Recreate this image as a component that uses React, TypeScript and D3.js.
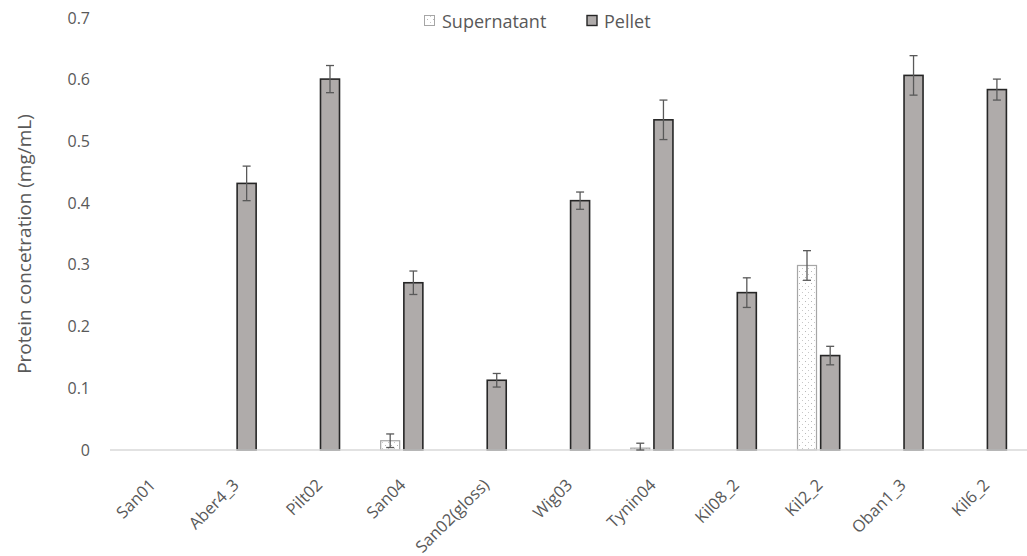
import React from "react";
import * as d3 from "d3";

const categories = ["San01", "Aber4_3", "Pilt02", "San04", "San02(gloss)", "Wig03", "Tynin04", "Kil08_2", "Kil2_2", "Oban1_3", "Kil6_2"];
const supernatant = [0, 0, 0, 0.015, 0, 0, 0.003, 0, 0.299, 0, 0];
const supernatantErr = [0, 0, 0, 0.011, 0, 0, 0.008, 0, 0.024, 0, 0];
const pellet = [0, 0.432, 0.601, 0.271, 0.113, 0.404, 0.535, 0.255, 0.153, 0.607, 0.584];
const pelletErr = [0, 0.028, 0.022, 0.019, 0.011, 0.014, 0.032, 0.024, 0.015, 0.032, 0.017];
const yTicks = [0, 0.1, 0.2, 0.3, 0.4, 0.5, 0.6, 0.7];

const W = 1027, H = 556;
const FONT = "'Open Sans', 'Noto Sans', sans-serif";

export default function App() {
  const x = d3.scaleBand<string>().domain(categories).range([110, 1027]).padding(0);
  const y = d3.scaleLinear().domain([0, 0.7]).range([450, 18]);
  const bw = x.bandwidth();
  const barW = bw * 0.228;
  const gap = bw * 0.05;

  const series = [
    { name: "Supernatant", vals: supernatant, errs: supernatantErr, offset: -gap / 2 - barW, fill: "url(#dots)", stroke: "#a6a6a6", sw: 1.2 },
    { name: "Pellet", vals: pellet, errs: pelletErr, offset: gap / 2, fill: "#afabaa", stroke: "#262626", sw: 1.6 },
  ];

  return (
    <svg width={W} height={H} style={{ position: "absolute", left: 0, top: 0, background: "#fff" }}>
      <defs>
        <pattern id="dots" width="6" height="6" patternUnits="userSpaceOnUse">
          <rect width="6" height="6" fill="#fff" />
          <rect x="1" y="1" width="1" height="1" fill="#b8b8b8" />
          <rect x="4" y="4" width="1" height="1" fill="#c8c8c8" />
        </pattern>
      </defs>
      {yTicks.map((t) => (
        <text key={t} x={90} y={y(t) + 5.5} textAnchor="end" fontFamily={FONT} fontSize={16} fill="#595959">
          {t === 0 ? "0" : d3.format(".1f")(t)}
        </text>
      ))}
      <text transform={`translate(31, 244) rotate(-90)`} textAnchor="middle" fontFamily={FONT} fontSize={19} fill="#595959">
        Protein concetration (mg/mL)
      </text>
      {series.map((s) => (
        <g key={s.name}>
          {categories.map((c, i) => {
            const v = s.vals[i];
            if (!v) return null;
            const bx = (x(c) as number) + bw / 2 + s.offset;
            return (
              <rect key={c} x={bx} y={y(v)} width={barW} height={y(0) - y(v)} fill={s.fill} stroke={s.stroke} strokeWidth={s.sw} />
            );
          })}
        </g>
      ))}
      <line x1={110} x2={1027} y1={y(0)} y2={y(0)} stroke="#d9d9d9" strokeWidth={1.3} />
      {series.map((s) => (
        <g key={s.name + "err"}>
          {categories.map((c, i) => {
            const v = s.vals[i];
            const e = s.errs[i];
            if (!v || !e) return null;
            const cx = (x(c) as number) + bw / 2 + s.offset + barW / 2;
            return (
              <g key={c} stroke="#595959" strokeWidth={1.3}>
                <line x1={cx} x2={cx} y1={y(v + e)} y2={y(Math.max(0, v - e))} />
                <line x1={cx - 4} x2={cx + 4} y1={y(v + e)} y2={y(v + e)} />
                <line x1={cx - 4} x2={cx + 4} y1={y(Math.max(0, v - e))} y2={y(Math.max(0, v - e))} />
              </g>
            );
          })}
        </g>
      ))}
      {categories.map((c) => {
        const cx = (x(c) as number) + bw / 2;
        return (
          <g key={c} transform={`translate(${cx + 5}, 486)`}>
            <text transform="rotate(-45)" textAnchor="end" fontFamily={FONT} fontSize={16.5} fill="#595959">
              {c}
            </text>
          </g>
        );
      })}
      <g fontFamily={FONT} fontSize={18} fill="#595959">
        <rect x={424.5} y={15.5} width={10} height={10} fill="url(#dots)" stroke="#a6a6a6" strokeWidth={1} />
        <text x={442} y={27.5}>Supernatant</text>
        <rect x={587} y={15.5} width={10} height={10} fill="#afabaa" stroke="#262626" strokeWidth={1.4} />
        <text x={604} y={27.5}>Pellet</text>
      </g>
    </svg>
  );
}
